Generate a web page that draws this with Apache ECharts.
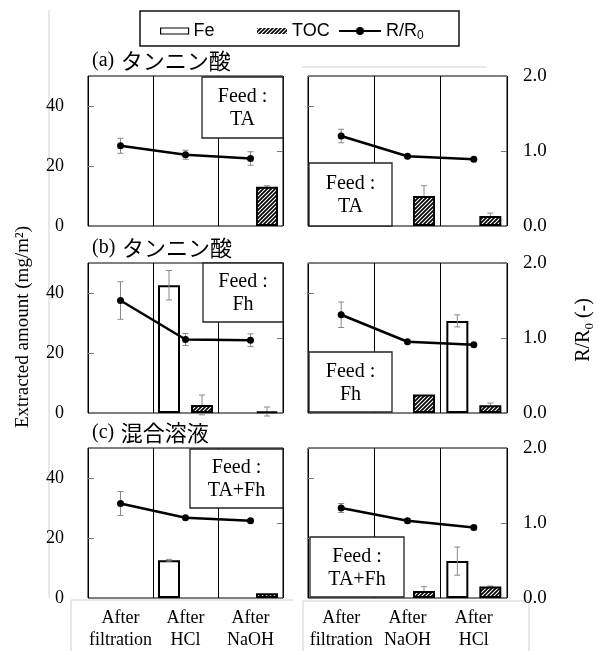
<!DOCTYPE html>
<html>
<head>
<meta charset="utf-8">
<script src="https://cdn.jsdelivr.net/npm/echarts@6/dist/echarts.min.js"></script>
<style>
  html, body { margin: 0; padding: 0; background: #fff; }
  #chart { width: 598px; height: 651px; }
</style>
</head>
<body>
<div id="chart"></div>
<script>
// categories
const catsLeft = ['After\nfiltration', 'After\nHCl', 'After\nNaOH'];
const catsRight = ['After\nfiltration', 'After\nNaOH', 'After\nHCl'];

// row titles and feed labels
const titleTags = ['(a)', '(b)', '(c)'];
const titleJa = ['タンニン酸', 'タンニン酸', '混合溶液'];
const feedLabels = ['TA', 'TA', 'Fh', 'Fh', 'TA+Fh', 'TA+Fh'];

// (a) left
const feA1 = [0, 0, 0], feErrA1 = [0, 0, 0];
const tocA1 = [0, 0, 13.1], tocErrA1 = [0, 0, 0.3];
const rA1 = [1.07, 0.95, 0.90], rErrA1 = [0.10, 0.06, 0.09];
// (a) right
const feA2 = [0, 0, 0], feErrA2 = [0, 0, 0];
const tocA2 = [0, 10, 3.3], tocErrA2 = [0, 3.4, 1.0];
const rA2 = [1.20, 0.93, 0.89], rErrA2 = [0.09, 0, 0];
// (b) left
const feB1 = [0, 42.6, 0], feErrB1 = [0, 4.9, 0];
const tocB1 = [0, 2.7, 0.5], tocErrB1 = [0, 3.3, 1.5];
const rB1 = [1.50, 0.98, 0.97], rErrB1 = [0.25, 0.08, 0.085];
// (b) right
const feB2 = [0, 0, 30.7], feErrB2 = [0, 0, 2.0];
const tocB2 = [0, 6.2, 2.6], tocErrB2 = [0, 0, 0.7];
const rB2 = [1.31, 0.95, 0.91], rErrB2 = [0.17, 0, 0];
// (c) left
const feC1 = [0, 12.6, 0], feErrC1 = [0, 0.3, 0];
const tocC1 = [0, 0, 1.6], tocErrC1 = [0, 0, 0];
const rC1 = [1.26, 1.07, 1.03], rErrC1 = [0.16, 0, 0];
// (c) right
const feC2 = [0, 0, 12.3], feErrC2 = [0, 0, 4.7];
const tocC2 = [0, 2.3, 3.8], tocErrC2 = [0, 1.5, 0.2];
const rC2 = [1.20, 1.03, 0.94], rErrC2 = [0.06, 0.03, 0.03];

const panels = [
  { cats: catsLeft, fe: feA1, feErr: feErrA1, toc: tocA1, tocErr: tocErrA1, r: rA1, rErr: rErrA1 },
  { cats: catsRight, fe: feA2, feErr: feErrA2, toc: tocA2, tocErr: tocErrA2, r: rA2, rErr: rErrA2 },
  { cats: catsLeft, fe: feB1, feErr: feErrB1, toc: tocB1, tocErr: tocErrB1, r: rB1, rErr: rErrB1 },
  { cats: catsRight, fe: feB2, feErr: feErrB2, toc: tocB2, tocErr: tocErrB2, r: rB2, rErr: rErrB2 },
  { cats: catsLeft, fe: feC1, feErr: feErrC1, toc: tocC1, tocErr: tocErrC1, r: rC1, rErr: rErrC1 },
  { cats: catsRight, fe: feC2, feErr: feErrC2, toc: tocC2, tocErr: tocErrC2, r: rC2, rErr: rErrC2 }
];

const serif = '"Liberation Serif", "Times New Roman", serif';
const sans = '"Liberation Sans", Arial, sans-serif';
const ja = '"Noto Sans CJK JP", sans-serif';

// hatch fill for TOC
const hatch = (function () {
  const c = document.createElement('canvas');
  c.width = c.height = 4;
  const g = c.getContext('2d');
  g.fillStyle = '#fff';
  g.fillRect(0, 0, 4, 4);
  g.strokeStyle = '#000';
  g.lineWidth = 1.7;
  g.beginPath();
  g.moveTo(0, 4); g.lineTo(4, 0);
  g.moveTo(-1, 1); g.lineTo(1, -1);
  g.moveTo(3, 5); g.lineTo(5, 3);
  g.stroke();
  return c;
})();

const gridLefts = [88, 308];
const gridWidths = [195, 199];
const gridTops = [76, 263, 448];
const gridH = 150;

// a zero amount is drawn as no bar
function barData (arr) {
  return arr.map(function (v) { return v === 0 ? '-' : v; });
}

function errRender (offset, color) {
  return function (params, api) {
    const e = api.value(2);
    if (!e) return;
    const x = api.value(0), v = api.value(1);
    const top = api.coord([x, v + e]);
    const bot = api.coord([x, v - e]);
    const cx = top[0] + offset;
    const st = { stroke: color, lineWidth: 1 };
    return {
      type: 'group',
      children: [
        { type: 'line', shape: { x1: cx, y1: top[1], x2: cx, y2: bot[1] }, style: st },
        { type: 'line', shape: { x1: cx - 3, y1: top[1], x2: cx + 3, y2: top[1] }, style: st },
        { type: 'line', shape: { x1: cx - 3, y1: bot[1], x2: cx + 3, y2: bot[1] }, style: st }
      ]
    };
  };
}

const grid = [], xAxis = [], yAxis = [], series = [];
panels.forEach(function (p, i) {
  const row = Math.floor(i / 2), col = i % 2;
  grid.push({
    left: gridLefts[col], top: gridTops[row], width: gridWidths[col], height: gridH,
    show: true, borderColor: '#000', borderWidth: 1, backgroundColor: '#fff'
  });
  xAxis.push({
    gridIndex: i, type: 'category', data: p.cats,
    axisLine: { show: false }, axisTick: { show: false },
    splitLine: { show: true, interval: 0, lineStyle: { color: '#000', width: 1 } },
    axisLabel: {
      show: row === 2, interval: 0, color: '#000', fontFamily: serif,
      fontSize: 18, lineHeight: 22, margin: 9
    }
  });
  yAxis.push({
    gridIndex: i, type: 'value', min: 0, max: 50, interval: 20,
    axisLine: { show: false }, splitLine: { show: false },
    axisTick: { show: true, inside: true, length: 6, lineStyle: { color: '#777' } },
    axisLabel: { show: col === 0, showMaxLabel: false, color: '#000', fontFamily: serif, fontSize: 18, margin: 24 }
  });
  yAxis.push({
    gridIndex: i, type: 'value', position: 'right', min: 0, max: 2, interval: 1,
    axisLine: { show: false }, splitLine: { show: false },
    axisTick: { show: true, inside: true, length: 6, lineStyle: { color: '#777' } },
    axisLabel: {
      show: col === 1, color: '#000', fontFamily: serif, fontSize: 19, margin: 16,
      formatter: function (v) { return v.toFixed(1); }
    }
  });
  series.push({
    type: 'bar', name: 'Fe', xAxisIndex: i, yAxisIndex: 2 * i, data: barData(p.fe),
    barWidth: 22, barGap: '50%', z: 2,
    itemStyle: { color: '#fff', borderColor: '#000', borderWidth: 2 }
  });
  series.push({
    type: 'bar', name: 'TOC', xAxisIndex: i, yAxisIndex: 2 * i, data: barData(p.toc),
    barWidth: 22, barGap: '50%', z: 2,
    itemStyle: { color: { image: hatch, repeat: 'repeat' }, borderColor: '#000', borderWidth: 2 }
  });
  series.push({
    type: 'line', name: 'R/R0', xAxisIndex: i, yAxisIndex: 2 * i + 1, data: p.r,
    symbol: 'circle', symbolSize: 7, z: 6,
    itemStyle: { color: '#000' }, lineStyle: { color: '#000', width: 2.5 }
  });
  series.push({
    type: 'custom', xAxisIndex: i, yAxisIndex: 2 * i, z: 3, silent: true,
    renderItem: errRender(-16.5, '#888'),
    data: p.fe.map(function (v, k) { return [k, v, p.feErr[k]]; })
  });
  series.push({
    type: 'custom', xAxisIndex: i, yAxisIndex: 2 * i, z: 1, silent: true,
    renderItem: errRender(16.5, '#888'),
    data: p.toc.map(function (v, k) { return [k, v, p.tocErr[k]]; })
  });
  series.push({
    type: 'custom', xAxisIndex: i, yAxisIndex: 2 * i + 1, z: 4, silent: true,
    renderItem: errRender(0, '#888'),
    data: p.r.map(function (v, k) { return [k, v, p.rErr[k]]; })
  });
});

// feed boxes [x, y, w, h]
const feedBoxes = [[202, 77, 81, 61], [309, 163, 83, 63], [203, 263, 80, 59],
  [309, 352, 83, 60], [190, 449, 93, 59], [310, 537, 94, 60]];

const graphic = [];
feedBoxes.forEach(function (b, i) {
  graphic.push({
    type: 'rect', z: 100, shape: { x: b[0], y: b[1], width: b[2], height: b[3] },
    style: { fill: '#fff', stroke: '#222', lineWidth: 1.3 }
  });
  graphic.push({
    type: 'text', z: 101, x: b[0] + b[2] / 2, y: b[1] + b[3] / 2 + 1,
    style: {
      text: 'Feed :\n' + feedLabels[i], align: 'center', verticalAlign: 'middle',
      fontFamily: serif, fontSize: 20, lineHeight: 23, fill: '#000'
    }
  });
});
gridTops.forEach(function (t, r) {
  graphic.push({
    type: 'text', z: 100, x: 92, y: t - 4,
    style: {
      text: '{a|' + titleTags[r] + '}  {b|' + titleJa[r] + '}',
      verticalAlign: 'bottom', fill: '#000',
      rich: {
        a: { fontFamily: serif, fontSize: 20, fill: '#000' },
        b: { fontFamily: ja, fontSize: 22, fill: '#000' }
      }
    }
  });
});
// axis names
graphic.push({
  type: 'text', z: 100, x: 23, y: 327, rotation: Math.PI / 2,
  style: {
    text: 'Extracted amount (mg/m²)', align: 'center', verticalAlign: 'middle',
    fontFamily: serif, fontSize: 19, fill: '#000'
  }
});
graphic.push({
  type: 'text', z: 100, x: 584, y: 330, rotation: Math.PI / 2,
  style: {
    text: '{a|R/R}{s|0}{a| (-)}', align: 'center', verticalAlign: 'middle',
    rich: {
      a: { fontFamily: serif, fontSize: 20, fill: '#000', lineHeight: 24 },
      s: { fontFamily: serif, fontSize: 13, fill: '#000', lineHeight: 24, verticalAlign: 'bottom' }
    }
  }
});
// legend frame and faint page lines
graphic.push({
  type: 'rect', z: 100, shape: { x: 140, y: 11, width: 319, height: 35 },
  style: { fill: 'none', stroke: '#111', lineWidth: 1.5 }
});
[[49, 10, 49, 598], [302, 67, 487, 67], [71, 600, 293, 600], [71, 600, 71, 651],
  [303, 601, 529, 601], [303, 601, 303, 651], [529, 601, 529, 651]].forEach(function (l) {
  graphic.push({
    type: 'line', z: 0, shape: { x1: l[0], y1: l[1], x2: l[2], y2: l[3] },
    style: { stroke: '#d0d0d0', lineWidth: 1 }
  });
});

const legendText = {
  color: '#000', fontFamily: sans, fontSize: 18,
  rich: {
    n: { fontFamily: sans, fontSize: 18, color: '#000', lineHeight: 22 },
    s: { fontFamily: sans, fontSize: 12, color: '#000', lineHeight: 22, verticalAlign: 'bottom' }
  }
};
function legendFmt (name) {
  return name === 'R/R0' ? '{n|R/R}{s|0}' : '{n|' + name + '}';
}

const chart = echarts.init(document.getElementById('chart'), null, { renderer: 'canvas' });
chart.setOption({
  animation: false,
  backgroundColor: '#fff',
  legend: [
    { data: [{ name: 'Fe', icon: 'rect' }], left: 155, top: 17, itemWidth: 28, itemHeight: 6,
      itemStyle: { borderWidth: 1.2 }, textStyle: legendText, formatter: legendFmt, selectedMode: false },
    { data: [{ name: 'TOC', icon: 'rect' }], left: 252, top: 17, itemWidth: 30, itemHeight: 6,
      itemStyle: { borderWidth: 0 }, textStyle: legendText, formatter: legendFmt, selectedMode: false },
    { data: ['R/R0'], left: 333, top: 17, itemWidth: 42, itemHeight: 10,
      textStyle: legendText, formatter: legendFmt, selectedMode: false }
  ],
  grid: grid,
  xAxis: xAxis,
  yAxis: yAxis,
  series: series,
  graphic: graphic
});
</script>
</body>
</html>
